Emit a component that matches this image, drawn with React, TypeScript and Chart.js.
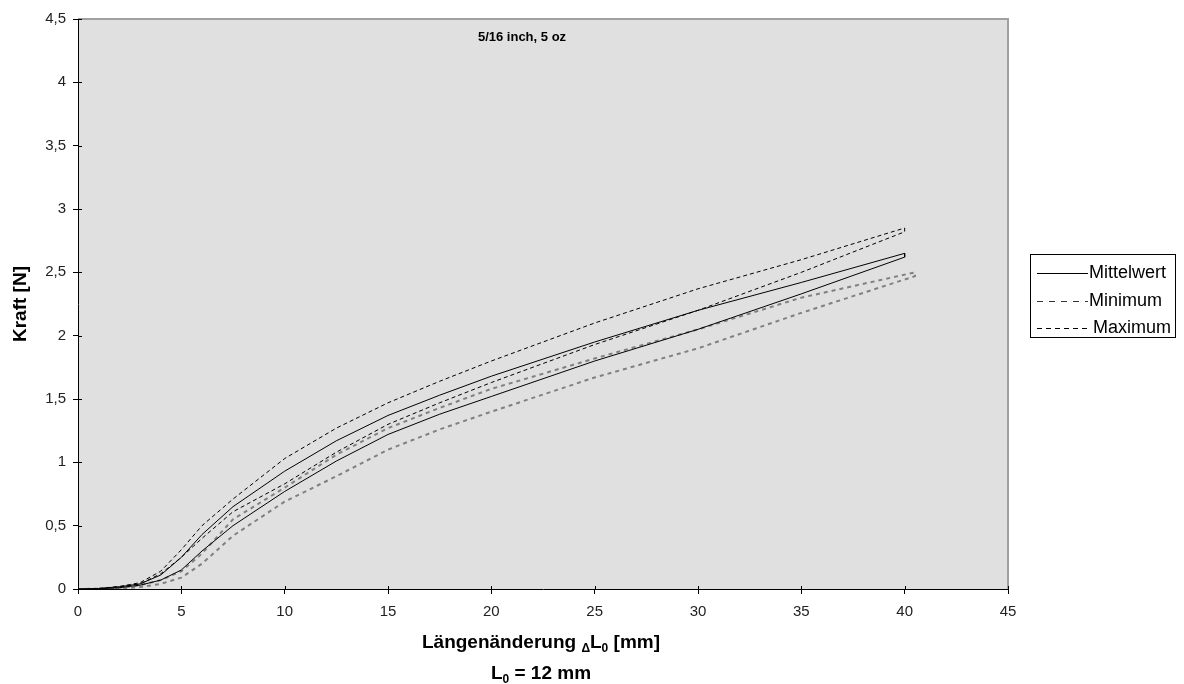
import React, { useEffect, useRef } from "react";
import { Chart, registerables } from "chart.js";

Chart.register(...registerables);

const chartTitle = "5/16 inch, 5 oz";
const yTitle = "Kraft [N]";
const xTicks = [0, 5, 10, 15, 20, 25, 30, 35, 40, 45];
const yTicks = [0, 0.5, 1, 1.5, 2, 2.5, 3, 3.5, 4, 4.5];

// Displacement values (mm) for loading (up) and unloading (down) branches
const xs = [0, 1, 2, 3, 4, 5, 6, 7.5, 10, 12.5, 15, 17.5, 20, 25, 30, 35, 40];
const xsMin = [0, 1, 2, 3, 4, 5, 6, 7.5, 10, 12.5, 15, 17.5, 20, 25, 30, 35, 40.5];

const mittelUp = [0, 0.004, 0.018, 0.04, 0.11, 0.25, 0.43, 0.65, 0.93, 1.17, 1.37, 1.53, 1.68, 1.95, 2.2, 2.42, 2.65];
const mittelDown = [0, 0.002, 0.01, 0.03, 0.07, 0.15, 0.3, 0.5, 0.77, 1.01, 1.22, 1.38, 1.52, 1.8, 2.05, 2.33, 2.62];
const minUp = [0, 0.002, 0.01, 0.03, 0.07, 0.14, 0.28, 0.55, 0.8, 1.06, 1.27, 1.43, 1.58, 1.82, 2.05, 2.3, 2.5];
const minDown = [0, 0.001, 0.005, 0.015, 0.04, 0.09, 0.2, 0.42, 0.69, 0.89, 1.1, 1.26, 1.4, 1.67, 1.9, 2.18, 2.47];
const maxUp = [0, 0.005, 0.02, 0.05, 0.14, 0.31, 0.5, 0.71, 1.03, 1.27, 1.47, 1.64, 1.8, 2.1, 2.37, 2.6, 2.85];
const maxDown = [0, 0.003, 0.015, 0.04, 0.12, 0.25, 0.4, 0.61, 0.83, 1.08, 1.3, 1.47, 1.63, 1.93, 2.2, 2.5, 2.82];

const seriesNames = ["Mittelwert", "Minimum", "Maximum"];
const seriesColors = ["#000000", "#808080", "#000000"];
const seriesWidths = [1, 2, 1];
const seriesDashes: number[][] = [[], [4, 4], [4, 3]];

function loop(x: number[], up: number[], down: number[]) {
  const pts = x.map((v, i) => ({ x: v, y: up[i] }));
  for (let i = x.length - 1; i >= 0; i--) pts.push({ x: x[i], y: down[i] });
  return pts;
}

const FONT = "'Liberation Sans', Arial, sans-serif";

export default function App() {
  const ref = useRef<HTMLCanvasElement | null>(null);
  useEffect(() => {
    document.body.style.margin = "0";
    const canvas = ref.current!;
    const loops = [loop(xs, mittelUp, mittelDown), loop(xsMin, minUp, minDown), loop(xs, maxUp, maxDown)];
    const bgPlugin = {
      id: "bg",
      beforeDraw(chart: any) {
        const { ctx, chartArea: a } = chart;
        ctx.save();
        ctx.fillStyle = "#ffffff";
        ctx.fillRect(0, 0, chart.width, chart.height);
        ctx.fillStyle = "#e0e0e0";
        ctx.fillRect(a.left, a.top, a.right - a.left, a.bottom - a.top);
        ctx.restore();
      },
      afterDraw(chart: any) {
        const { ctx, chartArea: a } = chart;
        ctx.save();
        // top/right border
        ctx.strokeStyle = "#a0a0a0";
        ctx.lineWidth = 2;
        ctx.beginPath();
        ctx.moveTo(a.left, a.top);
        ctx.lineTo(a.right, a.top);
        ctx.lineTo(a.right, a.bottom);
        ctx.stroke();
        // small inner tick stubs
        ctx.strokeStyle = "#000";
        ctx.lineWidth = 1;
        const xs_ = chart.scales.x, ys_ = chart.scales.y;
        ctx.beginPath();
        yTicks.forEach((t) => {
          const py = Math.round(ys_.getPixelForValue(t)) + 0.5;
          ctx.moveTo(a.left, py);
          ctx.lineTo(a.left + 4, py);
        });
        xTicks.forEach((t) => {
          const px = Math.round(xs_.getPixelForValue(t)) + 0.5;
          ctx.moveTo(px, a.bottom);
          ctx.lineTo(px, a.bottom - 3);
        });
        ctx.stroke();
        // title
        ctx.fillStyle = "#000";
        ctx.font = `bold 13px ${FONT}`;
        ctx.textAlign = "center";
        ctx.textBaseline = "middle";
        ctx.fillText(chartTitle, 522, 37);
        // y title
        ctx.save();
        ctx.translate(21, 304);
        ctx.rotate(-Math.PI / 2);
        ctx.font = `bold 19px ${FONT}`;
        ctx.fillText(yTitle, 0, 0);
        ctx.restore();
        // x title line 1 with subscripts
        const big = `bold 19px ${FONT}`;
        const small = `bold 12px ${FONT}`;
        const parts: [string, string, number][] = [
          ["Längenänderung ", big, 0],
          ["Δ", small, 4],
          ["L", big, 0],
          ["0", small, 4],
          [" [mm]", big, 0],
        ];
        ctx.textAlign = "left";
        ctx.textBaseline = "alphabetic";
        let total = 0;
        parts.forEach(([t, f]) => { ctx.font = f; total += ctx.measureText(t).width; });
        let cx = 541 - total / 2;
        parts.forEach(([t, f, dy]) => {
          ctx.font = f;
          ctx.fillText(t, cx, 648 + dy);
          cx += ctx.measureText(t).width;
        });
        const parts2: [string, string, number][] = [
          ["L", big, 0],
          ["0", small, 4],
          [" = 12 mm", big, 0],
        ];
        total = 0;
        parts2.forEach(([t, f]) => { ctx.font = f; total += ctx.measureText(t).width; });
        cx = 541 - total / 2;
        parts2.forEach(([t, f, dy]) => {
          ctx.font = f;
          ctx.fillText(t, cx, 679 + dy);
          cx += ctx.measureText(t).width;
        });
        // legend
        ctx.fillStyle = "#ffffff";
        ctx.fillRect(1030, 254, 145, 83);
        ctx.strokeStyle = "#000";
        ctx.lineWidth = 1;
        ctx.strokeRect(1030.5, 254.5, 145, 83);
        const ly = [273, 301, 328];
        seriesNames.forEach((n, i) => {
          ctx.lineWidth = 1;
          ctx.setLineDash(i === 1 ? [6, 6] : i === 2 ? [5, 4] : []);
          ctx.strokeStyle = i === 1 ? "#333" : "#000";
          ctx.beginPath();
          ctx.moveTo(1037, ly[i] + 0.5);
          ctx.lineTo(1088, ly[i] + 0.5);
          ctx.stroke();
          ctx.setLineDash([]);
          ctx.fillStyle = "#000";
          ctx.font = `18px ${FONT}`;
          ctx.textBaseline = "middle";
          ctx.fillText(n, i === 2 ? 1093 : 1089, ly[i]);
        });
        ctx.restore();
      },
    };
    const chart = new Chart(canvas, {
      type: "scatter",
      data: {
        datasets: loops.map((pts, i) => ({
          label: seriesNames[i],
          data: pts,
          showLine: true,
          borderColor: seriesColors[i],
          backgroundColor: seriesColors[i],
          borderWidth: seriesWidths[i],
          borderDash: seriesDashes[i],
          pointRadius: 0,
          tension: 0,
        })),
      },
      options: {
        animation: false,
        responsive: false,
        devicePixelRatio: 1,
        layout: { padding: { top: 19, right: 176, left: 0, bottom: 0 } },
        plugins: { legend: { display: false }, tooltip: { enabled: false }, title: { display: false } },
        scales: {
          x: {
            type: "linear",
            min: 0,
            max: 45,
            afterBuildTicks: (s: any) => { s.ticks = xTicks.map((v) => ({ value: v })); },
            afterFit: (s: any) => { s.height = 95; },
            ticks: { color: "#222", font: { family: FONT, size: 15 }, padding: 9, maxRotation: 0 },
            grid: { drawOnChartArea: false, drawTicks: true, tickLength: 5, color: "#000" },
            border: { color: "#000", width: 1 },
          },
          y: {
            type: "linear",
            min: 0,
            max: 4.5,
            afterBuildTicks: (s: any) => { s.ticks = yTicks.map((v) => ({ value: v })); },
            afterFit: (s: any) => { s.width = 78; },
            ticks: {
              color: "#222",
              font: { family: FONT, size: 15 },
              padding: 7,
              callback: (v: any) => String(v).replace(".", ","),
            },
            grid: { drawOnChartArea: false, drawTicks: true, tickLength: 5, color: "#000" },
            border: { color: "#000", width: 1 },
          },
        },
      },
      plugins: [bgPlugin],
    } as any);
    return () => chart.destroy();
  }, []);
  return (
    <div style={{ width: 1184, height: 684 }}>
      <canvas ref={ref} width={1184} height={684} style={{ display: "block" }} />
    </div>
  );
}
